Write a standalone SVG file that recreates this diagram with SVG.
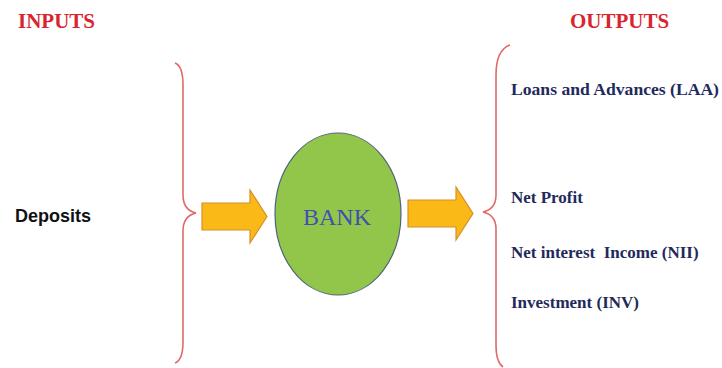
<svg xmlns="http://www.w3.org/2000/svg" width="722" height="368" viewBox="0 0 722 368">
<style>
.hdr{font-family:"Liberation Serif",serif;font-weight:bold;font-size:21px;fill:#d9252f}
.out{font-family:"Liberation Serif",serif;font-weight:bold;font-size:17px;fill:#1f2a5c}
.brace{fill:none;stroke:#e06a6a;stroke-width:1.6}
.arrow{fill:#fbb917;stroke:#d4902a;stroke-width:1.2}
</style>
<rect width="722" height="368" fill="#ffffff"/>
<g id="labels">
<text class="hdr" x="18" y="28">INPUTS</text>
<text class="hdr" x="570" y="28">OUTPUTS</text>
</g>
<g id="inputs">
<text x="15" y="222" font-family="Liberation Sans, sans-serif" font-weight="bold" font-size="18" fill="#111">Deposits</text>
<path class="brace" d="M175,63 Q183,66 183,85 L183,195 Q183,210 196,213 Q183,216 183,231 L183,342 Q183,360 175,363"/>
</g>
<g id="bank">
<ellipse cx="338" cy="214" rx="63" ry="81" fill="#92c64a" stroke="#50637a" stroke-width="1.2"/>
<text x="337" y="225" text-anchor="middle" font-family="Liberation Serif, serif" font-size="24" fill="#3f51b0">BANK</text>
</g>
<g id="outputs">
<path class="brace" d="M510,45 Q496,50 496,75 L496,195 Q496,209 483,212 Q496,215 496,229 L496,345 Q496,362 503,367"/>
<text class="out" x="511" y="95" textLength="208" lengthAdjust="spacingAndGlyphs">Loans and Advances (LAA)</text>
<text class="out" x="511" y="203">Net Profit</text>
<text class="out" x="511" y="258" xml:space="preserve">Net interest  Income (NII)</text>
<text class="out" x="511" y="308">Investment (INV)</text>
</g>
<g id="connectors">
<path class="arrow" d="M202,203 L250,203 L250,190 L267,216.5 L250,243 L250,230 L202,230 Z"/>
<path class="arrow" d="M408,200 L456,200 L456,187 L473,213.5 L456,240 L456,227 L408,227 Z"/>
</g>
</svg>
